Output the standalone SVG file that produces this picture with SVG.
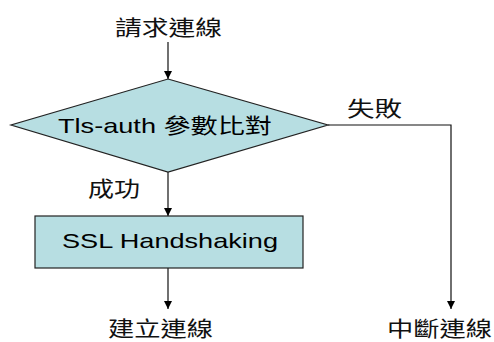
<svg xmlns="http://www.w3.org/2000/svg" width="494" height="342" viewBox="0 0 494 342">
  <defs>
    <marker id="arrow" viewBox="0 0 10 10" refX="10" refY="5" markerWidth="8" markerHeight="9" markerUnits="userSpaceOnUse" orient="auto">
      <path d="M0,0 L10,5 L0,10 Z" fill="#000"/>
    </marker>
    <style>
      .shape { fill: #B7DEE2; stroke: #222; stroke-width: 1.2; }
      .edge { fill: none; stroke: #111; stroke-width: 1.2; }
      .lbl { font-family: "Noto Sans CJK TC", "Liberation Sans", sans-serif; font-size: 21px; fill: #111; }
      .inner { font-family: "Liberation Sans", "Noto Sans CJK TC", sans-serif; font-size: 21px; fill: #000; }
    </style>
  </defs>
  <rect width="494" height="342" fill="#fff"/>

  <!-- connectors -->
  <g id="connectors">
    <line class="edge" x1="168" y1="42" x2="168" y2="79" marker-end="url(#arrow)"/>
    <line class="edge" x1="168" y1="172" x2="168" y2="216" marker-end="url(#arrow)"/>
    <line class="edge" x1="168" y1="268" x2="168" y2="309" marker-end="url(#arrow)"/>
    <polyline class="edge" points="328,125 451,125 451,309" marker-end="url(#arrow)"/>
    <text class="lbl" x="347" y="116" textLength="55" lengthAdjust="spacingAndGlyphs">失敗</text>
    <text class="lbl" x="88" y="196" textLength="52" lengthAdjust="spacingAndGlyphs">成功</text>
  </g>

  <g id="start">
    <text class="lbl" x="115" y="35" textLength="107" lengthAdjust="spacingAndGlyphs">請求連線</text>
  </g>

  <g id="check">
    <polygon class="shape" points="168,79 328,125 168,172 11,125"/>
    <text class="inner" x="58" y="133" textLength="214" lengthAdjust="spacingAndGlyphs">Tls-auth 參數比對</text>
  </g>

  <g id="handshake">
    <rect class="shape" x="35" y="216" width="268" height="52"/>
    <text class="inner" x="62" y="248" font-size="22" textLength="216" lengthAdjust="spacingAndGlyphs">SSL Handshaking</text>
  </g>

  <g id="connected">
    <text class="lbl" x="108" y="336" textLength="105" lengthAdjust="spacingAndGlyphs">建立連線</text>
  </g>

  <g id="disconnected">
    <text class="lbl" x="387" y="336" textLength="105" lengthAdjust="spacingAndGlyphs">中斷連線</text>
  </g>
</svg>
